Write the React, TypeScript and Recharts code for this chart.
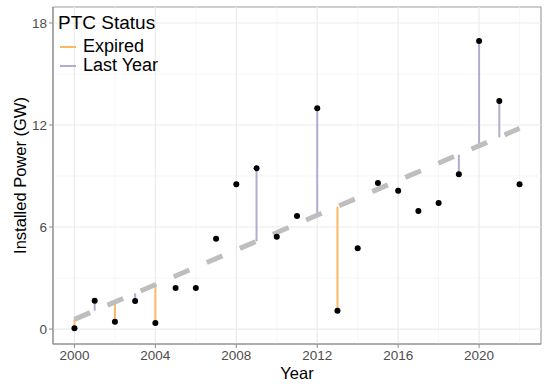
import { ComposedChart, Line, XAxis, YAxis, ReferenceLine, ReferenceArea } from 'recharts';

const years = [2000, 2001, 2002, 2003, 2004, 2005, 2006, 2007, 2008, 2009, 2010, 2011, 2012, 2013, 2014, 2015, 2016, 2017, 2018, 2019, 2020, 2021, 2022];
const installedGW = [0.05, 1.66, 0.43, 1.65, 0.35, 2.41, 2.41, 5.31, 8.51, 9.45, 5.43, 6.65, 12.98, 1.08, 4.75, 8.59, 8.14, 6.94, 7.41, 9.1, 16.94, 13.41, 8.51];

// dashed trend, read at both ends
const trendYears = [2000, 2022];
const trendGW = [0.57, 11.8];

// segments from the trend to the point
const expiredYears = [2000, 2002, 2004, 2013];
const expiredBase = [0.57, 1.59, 2.61, 7.2];
const lastYearYears = [2001, 2003, 2009, 2012, 2019, 2020, 2021];
const lastYearBase = [1.08, 2.1, 5.16, 6.69, 10.26, 10.77, 11.28];

const xTicks = [2000, 2004, 2008, 2012, 2016, 2020];
const xMinor = [2002, 2006, 2010, 2014, 2018, 2022];
const yTicks = [0, 6, 12, 18];
const yMinor = [3, 9, 15];

const X_DOMAIN: [number, number] = [1998.94, 2023.06];
const Y_DOMAIN: [number, number] = [-0.88, 18.94];

const EXPIRED_COLOR = '#FDB863';
const LAST_YEAR_COLOR = '#B2ABD2';
const FONT = '"Liberation Sans", Arial, sans-serif';

const pointData = years.map((year, i) => ({ year, gw: installedGW[i] }));
const trendData = trendYears.map((year, i) => ({ year, gw: trendGW[i] }));

function segment(year: number, base: number) {
  const idx = years.indexOf(year);
  return [{ year, gw: base }, { year, gw: installedGW[idx] }];
}

const legendItems = [
  { label: 'Expired', color: EXPIRED_COLOR },
  { label: 'Last Year', color: LAST_YEAR_COLOR },
];

export default function App() {
  return (
    <div style={{ position: 'absolute', left: 0, top: 0, width: 550, height: 387, background: '#fff', fontFamily: FONT }}>
      <ComposedChart width={550} height={387} data={pointData} margin={{ top: 7, right: 9, bottom: 0, left: 0 }}>
        {xMinor.map((v) => (
          <ReferenceLine key={'xm' + v} x={v} stroke="#F2F2F2" strokeWidth={0.7} />
        ))}
        {yMinor.map((v) => (
          <ReferenceLine key={'ym' + v} y={v} stroke="#F2F2F2" strokeWidth={0.7} />
        ))}
        {xTicks.map((v) => (
          <ReferenceLine key={'xM' + v} x={v} stroke="#EBEBEB" strokeWidth={1.2} />
        ))}
        {yTicks.map((v) => (
          <ReferenceLine key={'yM' + v} y={v} stroke="#EBEBEB" strokeWidth={1.2} />
        ))}
        <XAxis
          type="number"
          dataKey="year"
          domain={X_DOMAIN}
          ticks={xTicks}
          allowDataOverflow
          height={43}
          tickSize={4}
          tickMargin={2}
          stroke="#8C8C8C"
          tick={{ fill: '#4D4D4D', fontSize: 13.5, fontFamily: FONT }}
          label={{ value: 'Year', position: 'insideBottom', offset: 8, fill: '#000', fontSize: 16.5, fontFamily: FONT }}
        />
        <YAxis
          type="number"
          domain={Y_DOMAIN}
          ticks={yTicks}
          allowDataOverflow
          width={53}
          tickSize={4}
          tickMargin={2}
          stroke="#8C8C8C"
          tick={{ fill: '#4D4D4D', fontSize: 13.5, fontFamily: FONT }}
          label={{ value: 'Installed Power (GW)', angle: -90, position: 'center', dx: -6, fill: '#000', fontSize: 16.5, fontFamily: FONT }}
        />
        <ReferenceArea x1={X_DOMAIN[0]} x2={X_DOMAIN[1]} y1={Y_DOMAIN[0]} y2={Y_DOMAIN[1]} fill="none" stroke="#A0A0A0" strokeWidth={1.2} />
        {expiredYears.map((y, i) => (
          <Line key={'e' + y} data={segment(y, expiredBase[i])} dataKey="gw" stroke={EXPIRED_COLOR} strokeWidth={2} dot={false} isAnimationActive={false} />
        ))}
        {lastYearYears.map((y, i) => (
          <Line key={'l' + y} data={segment(y, lastYearBase[i])} dataKey="gw" stroke={LAST_YEAR_COLOR} strokeWidth={2} dot={false} isAnimationActive={false} />
        ))}
        <Line data={trendData} dataKey="gw" stroke="#BEBEBE" strokeWidth={5} strokeDasharray="17 19" dot={false} isAnimationActive={false} />
        <Line dataKey="gw" stroke="none" dot={{ r: 3, fill: '#000', stroke: 'none' }} isAnimationActive={false} />
      </ComposedChart>
      <div style={{ position: 'absolute', left: 58, top: 11, color: '#000' }}>
        <div style={{ fontSize: 19, lineHeight: '24px', height: 24 }}>PTC Status</div>
        <div style={{ height: 2 }} />
        {legendItems.map((item) => (
          <div key={item.label} style={{ display: 'flex', alignItems: 'center', fontSize: 18, height: 19, lineHeight: '19px' }}>
            <span style={{ display: 'inline-block', width: 16, height: 2, background: item.color, marginLeft: 2, marginRight: 7 }} />
            <span>{item.label}</span>
          </div>
        ))}
      </div>
    </div>
  );
}
